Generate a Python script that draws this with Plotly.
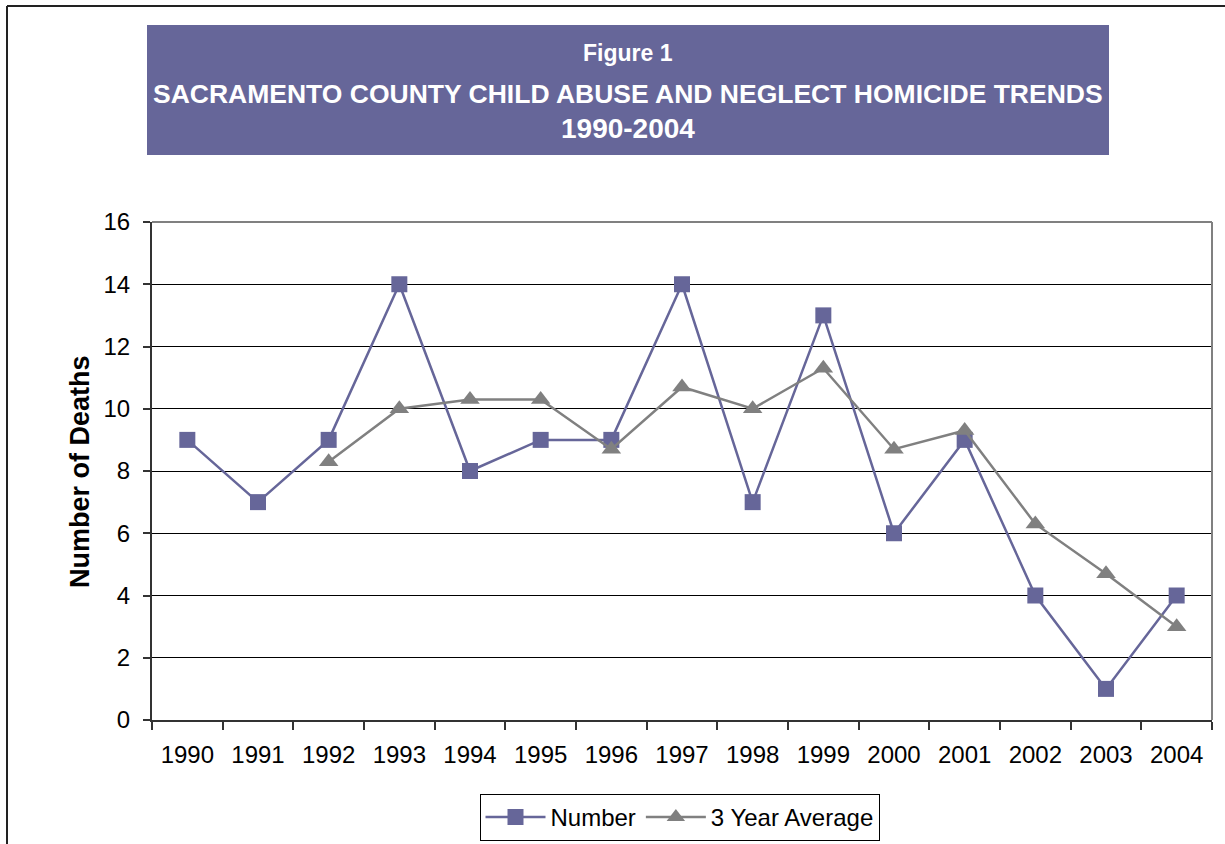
import plotly.graph_objects as go

years = ["1990", "1991", "1992", "1993", "1994", "1995", "1996", "1997",
         "1998", "1999", "2000", "2001", "2002", "2003", "2004"]
number = [9, 7, 9, 14, 8, 9, 9, 14, 7, 13, 6, 9, 4, 1, 4]
avg_years = ["1992", "1993", "1994", "1995", "1996", "1997", "1998",
             "1999", "2000", "2001", "2002", "2003", "2004"]
avg3 = [8.3, 10.0, 10.3, 10.3, 8.7, 10.7, 10.0, 11.3, 8.7, 9.3, 6.3, 4.7, 3.0]
y_ticks = [0, 2, 4, 6, 8, 10, 12, 14, 16]

PURPLE = "#666699"
GRAY = "#808080"
FONT = "Liberation Sans, Arial, sans-serif"

W, H = 1225, 844
L, R, T, B = 152, 1212, 222, 720

def px(x):
    return (x - L) / (R - L)

def py(y):
    return (B - y) / (B - T)

fig = go.Figure()
fig.add_trace(go.Scatter(
    x=years, y=number, name="Number", mode="lines+markers",
    line=dict(color=PURPLE, width=2.5),
    marker=dict(symbol="square", size=16, color=PURPLE),
))
fig.add_trace(go.Scatter(
    x=avg_years, y=avg3, name="3 Year Average", mode="lines+markers",
    line=dict(color=GRAY, width=2.5),
    marker=dict(symbol="triangle-up", size=17, color=GRAY),
))

shapes = [
    # outer chart border (left + top)
    dict(type="line", xref="paper", yref="paper", x0=px(7), x1=px(1240),
         y0=py(6), y1=py(6), line=dict(color="#222222", width=2)),
    dict(type="line", xref="paper", yref="paper", x0=px(7), x1=px(7),
         y0=py(6), y1=py(860), line=dict(color="#222222", width=2)),
    # title box
    dict(type="rect", xref="paper", yref="paper", x0=px(147), x1=px(1109),
         y0=py(155), y1=py(25), fillcolor=PURPLE, line=dict(width=0)),
    # plot area top/right border (gray)
    dict(type="line", xref="paper", yref="paper", x0=0, x1=1, y0=1, y1=1,
         line=dict(color=GRAY, width=2)),
    dict(type="line", xref="paper", yref="paper", x0=1, x1=1, y0=0, y1=1,
         line=dict(color=GRAY, width=2)),
]

annotations = [
    dict(text="<b>Figure 1</b>", xref="paper", yref="paper", x=px(628), y=py(53),
         showarrow=False, font=dict(family=FONT, size=23, color="white"),
         xanchor="center", yanchor="middle"),
    dict(text="<b>SACRAMENTO COUNTY CHILD ABUSE AND NEGLECT HOMICIDE TRENDS</b>",
         xref="paper", yref="paper", x=px(628), y=py(94),
         showarrow=False, font=dict(family=FONT, size=26.5, color="white"),
         xanchor="center", yanchor="middle"),
    dict(text="<b>1990-2004</b>", xref="paper", yref="paper", x=px(628), y=py(129),
         showarrow=False, font=dict(family=FONT, size=28, color="white"),
         xanchor="center", yanchor="middle"),
    dict(text="<b>Number of Deaths</b>", xref="paper", yref="paper",
         x=px(80), y=py(472), textangle=-90, showarrow=False,
         font=dict(family=FONT, size=27, color="black"),
         xanchor="center", yanchor="middle"),
]

fig.update_layout(
    width=W, height=H,
    margin=dict(l=L, r=W - R, t=T, b=H - B, autoexpand=False),
    paper_bgcolor="white", plot_bgcolor="white",
    font=dict(family=FONT, size=23, color="black"),
    showlegend=True,
    legend=dict(orientation="h", x=px(679.5), y=py(794), xanchor="center",
                yanchor="top", bordercolor="black", borderwidth=1,
                bgcolor="white", font=dict(family=FONT, size=24, color="black"),
                itemwidth=60, tracegroupgap=0),
    shapes=shapes,
    annotations=annotations,
    xaxis=dict(type="category", categoryorder="array", categoryarray=years,
               tickson="boundaries", ticks="outside", ticklen=8, tickwidth=1.5,
               tickcolor="#333333", showgrid=False, showline=True,
               linecolor="#333333", linewidth=2, ticklabelstandoff=12,
               tickfont=dict(family=FONT, size=24, color="black"),
               range=[-0.5, 14.5], zeroline=False, automargin=False),
    yaxis=dict(range=[0, 16], tickvals=y_ticks, ticks="outside", ticklen=7,
               tickwidth=1.5, tickcolor="#333333", showgrid=True,
               gridcolor="black", gridwidth=1, showline=True,
               linecolor="#333333", linewidth=2, zeroline=False,
               ticklabelstandoff=8, automargin=False,
               tickfont=dict(family=FONT, size=24, color="black")),
)

fig.write_html("out.html", config={"displayModeBar": False},
               post_script="document.body.style.margin='0';")
